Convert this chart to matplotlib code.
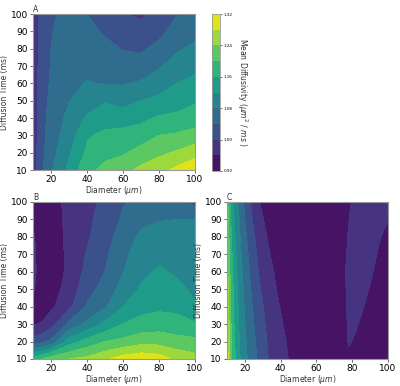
import numpy as np
import matplotlib
matplotlib.use("Agg")
import matplotlib.pyplot as plt

# ---------------- data ----------------
levels = [0.92, 0.96, 1.00, 1.04, 1.08, 1.12, 1.16, 1.20, 1.24, 1.28, 1.32]
cbar_ticks = [0.92, 1.00, 1.08, 1.16, 1.24, 1.32]
ticks_x = [20, 40, 60, 80, 100]
ticks_y = [10, 20, 30, 40, 50, 60, 70, 80, 90, 100]

# Panel A & B grid
diam_ab = [10, 15, 20, 30, 40, 50, 60, 70, 80, 90, 100]
time_ab = [10, 20, 30, 40, 50, 60, 70, 80, 90, 100]

# rows = time (10..100), cols = diameter
md_a = [
    [0.980, 1.035, 1.075, 1.130, 1.190, 1.210, 1.225, 1.250, 1.265, 1.290, 1.310],
    [0.978, 1.030, 1.065, 1.115, 1.168, 1.190, 1.195, 1.215, 1.232, 1.245, 1.265],
    [0.976, 1.028, 1.060, 1.100, 1.155, 1.170, 1.175, 1.180, 1.200, 1.205, 1.215],
    [0.975, 1.026, 1.055, 1.090, 1.125, 1.140, 1.140, 1.150, 1.165, 1.170, 1.180],
    [0.975, 1.024, 1.050, 1.078, 1.100, 1.117, 1.105, 1.120, 1.130, 1.140, 1.155],
    [0.975, 1.022, 1.045, 1.072, 1.082, 1.078, 1.077, 1.085, 1.100, 1.120, 1.130],
    [0.975, 1.020, 1.042, 1.065, 1.070, 1.065, 1.055, 1.055, 1.075, 1.100, 1.110],
    [0.975, 1.018, 1.040, 1.060, 1.060, 1.050, 1.038, 1.035, 1.050, 1.074, 1.090],
    [0.975, 1.016, 1.038, 1.055, 1.050, 1.035, 1.022, 1.018, 1.030, 1.055, 1.065],
    [0.975, 1.015, 1.035, 1.050, 1.040, 1.025, 1.002, 0.992, 1.015, 1.038, 1.050],
]

md_b = [
    [1.170, 1.200, 1.225, 1.240, 1.250, 1.272, 1.300, 1.310, 1.300, 1.270, 1.255],
    [1.015, 1.030, 1.050, 1.140, 1.175, 1.200, 1.210, 1.225, 1.225, 1.215, 1.210],
    [0.958, 0.962, 0.985, 1.050, 1.090, 1.130, 1.160, 1.175, 1.180, 1.175, 1.165],
    [0.955, 0.948, 0.952, 0.990, 1.045, 1.075, 1.120, 1.145, 1.152, 1.150, 1.125],
    [0.963, 0.946, 0.942, 0.975, 1.025, 1.055, 1.095, 1.125, 1.140, 1.130, 1.112],
    [0.967, 0.947, 0.938, 0.968, 1.012, 1.040, 1.078, 1.110, 1.125, 1.115, 1.103],
    [0.966, 0.947, 0.938, 0.968, 1.003, 1.032, 1.070, 1.100, 1.110, 1.105, 1.095],
    [0.963, 0.946, 0.938, 0.970, 0.995, 1.025, 1.058, 1.088, 1.095, 1.093, 1.088],
    [0.957, 0.946, 0.938, 0.972, 0.990, 1.018, 1.045, 1.070, 1.078, 1.080, 1.080],
    [0.952, 0.945, 0.938, 0.975, 0.985, 1.012, 1.037, 1.055, 1.060, 1.055, 1.025],
]

# Panel C grid
diam_c = [10, 12, 14, 17, 20, 24, 28, 33, 38, 44, 50, 60, 70, 74, 78, 82, 86, 90, 95, 100]
time_c = [10, 20, 40, 60, 80, 100]
md_c = [
    [1.310, 1.2185, 1.1705, 1.124, 1.091, 1.0586, 1.0314, 1.0006, 0.9825, 0.961, 0.945, 0.935, 0.935, 0.945, 0.955, 0.950, 0.945, 0.940, 0.935, 0.930],
    [1.300, 1.212, 1.164, 1.119, 1.0856, 1.0536, 1.0258, 0.996, 0.977, 0.957, 0.945, 0.935, 0.935, 0.945, 0.962, 0.957, 0.948, 0.942, 0.936, 0.932],
    [1.278, 1.200, 1.153, 1.108, 1.075, 1.041, 1.012, 0.986, 0.964, 0.948, 0.940, 0.933, 0.935, 0.948, 0.965, 0.968, 0.961, 0.953, 0.945, 0.938],
    [1.257, 1.188, 1.141, 1.0975, 1.064, 1.027, 0.997, 0.972, 0.953, 0.943, 0.937, 0.932, 0.935, 0.952, 0.966, 0.970, 0.969, 0.964, 0.952, 0.943],
    [1.236, 1.171, 1.126, 1.084, 1.049, 1.011, 0.983, 0.957, 0.945, 0.938, 0.934, 0.931, 0.935, 0.948, 0.962, 0.968, 0.970, 0.970, 0.962, 0.953],
    [1.215, 1.153, 1.113, 1.070, 1.0305, 0.9915, 0.961, 0.945, 0.937, 0.933, 0.931, 0.930, 0.935, 0.945, 0.957, 0.965, 0.968, 0.970, 0.970, 0.968],
]

xlabel = r"Diameter ($\mu m$)"
ylabel = "Diffusion Time (ms)"
cbar_label = r"Mean Diffusivity ($\mu m^2$ / $ms$ )"

# ---------------- drawing ----------------
fig = plt.figure(figsize=(4.0, 3.86), dpi=100)
W, H = 400.0, 386.0

def rect(l, t, r, b):
    return [l / W, 1 - b / H, (r - l) / W, (b - t) / H]

axA = fig.add_axes(rect(33, 14, 195, 170))
cax = fig.add_axes(rect(212, 14, 220, 171))
axB = fig.add_axes(rect(33, 202, 195, 359))
axC = fig.add_axes(rect(227, 202, 388, 359))

spine_col = "#999999"

def draw(ax, xs, ys, zz, title):
    cs = ax.contourf(xs, ys, np.array(zz), levels=levels, cmap="viridis")
    ax.set_xlim(10, 100)
    ax.set_ylim(10, 100)
    ax.set_xticks(ticks_x)
    ax.set_yticks(ticks_y)
    ax.tick_params(labelsize=6.5, length=2.5, width=0.6, pad=1.2, color="#555555")
    ax.set_xlabel(xlabel, fontsize=5.5, labelpad=0, color="#333333")
    ax.set_ylabel(ylabel, fontsize=5.5, labelpad=1, color="#333333")
    ax.set_title(title, loc="left", fontsize=5.5, pad=1.2, color="#333333")
    for s in ax.spines.values():
        s.set_color(spine_col)
        s.set_linewidth(0.8)
    return cs

csA = draw(axA, diam_ab, time_ab, md_a, "A")
draw(axB, diam_ab, time_ab, md_b, "B")
draw(axC, diam_c, time_c, md_c, "C")

cb = fig.colorbar(csA, cax=cax, ticks=cbar_ticks)
cb.ax.tick_params(labelsize=3, length=1.5, width=0.4, pad=1)
cb.ax.set_yticklabels(["%.2f" % t for t in cbar_ticks])
cb.outline.set_edgecolor(spine_col)
cb.outline.set_linewidth(0.6)
cb.set_label(cbar_label, rotation=270, fontsize=5.5, labelpad=12, color="#333333")

fig.savefig("out.png", dpi=100)
